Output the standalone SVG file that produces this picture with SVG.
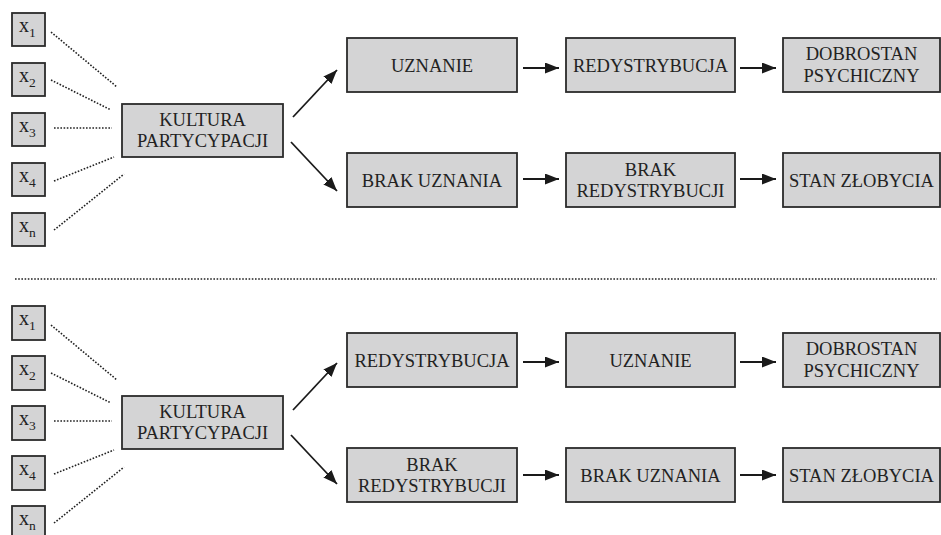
<svg xmlns="http://www.w3.org/2000/svg" width="941" height="535" viewBox="0 0 941 535" font-family="'Liberation Serif', 'DejaVu Serif', 'Times New Roman', serif">
<style>
.box{fill:#d4d4d5;stroke:#2b2b2b;stroke-width:1.8}
.t{font-family:'Liberation Serif','DejaVu Serif','Times New Roman',serif;font-size:18.5px;fill:#222;text-anchor:middle}
.xv{font-family:'Liberation Serif','DejaVu Serif','Times New Roman',serif;font-size:20px;fill:#222}
.sub{font-size:13.5px}
.dot{stroke:#222;stroke-width:1.6;stroke-dasharray:1.6 1.6;fill:none}
.arr{stroke:#1a1a1a;stroke-width:1.8;fill:none;marker-end:url(#ah)}
</style>
<defs>
<marker id="ah" viewBox="0 0 14 11" refX="14" refY="5.5" markerWidth="14" markerHeight="11" markerUnits="userSpaceOnUse" orient="auto">
<path d="M0,0 L14,5.5 L0,11 Z" fill="#1a1a1a"/>
</marker>
</defs>
<rect width="941" height="535" fill="#fff"/>

<!-- TOP SECTION -->
<g id="top-x1"><rect class="box" x="12" y="13" width="33" height="33"/><text class="xv" x="19" y="32">x<tspan class="sub" dy="5">1</tspan></text></g>
<g id="top-x2"><rect class="box" x="12" y="63" width="33" height="33"/><text class="xv" x="19" y="82">x<tspan class="sub" dy="5">2</tspan></text></g>
<g id="top-x3"><rect class="box" x="12" y="113" width="33" height="33"/><text class="xv" x="19" y="132">x<tspan class="sub" dy="5">3</tspan></text></g>
<g id="top-x4"><rect class="box" x="12" y="163" width="33" height="33"/><text class="xv" x="19" y="182">x<tspan class="sub" dy="5">4</tspan></text></g>
<g id="top-xn"><rect class="box" x="12" y="213" width="33" height="33"/><text class="xv" x="19" y="232">x<tspan class="sub" dy="5">n</tspan></text></g>
<g id="top-kultura"><rect class="box" x="122" y="104" width="161" height="53"/><text class="t" x="202.5" y="126">KULTURA</text><text class="t" x="202.5" y="147">PARTYCYPACJI</text></g>
<g id="top-uznanie"><rect class="box" x="347" y="38" width="170" height="54"/><text class="t" x="432" y="72">UZNANIE</text></g>
<g id="top-redystrybucja"><rect class="box" x="566" y="38" width="169" height="54"/><text class="t" x="650.5" y="72">REDYSTRYBUCJA</text></g>
<g id="top-dobrostan"><rect class="box" x="783" y="38" width="157" height="54"/><text class="t" x="861.5" y="60">DOBROSTAN</text><text class="t" x="861.5" y="82">PSYCHICZNY</text></g>
<g id="top-brak-uznania"><rect class="box" x="347" y="153" width="170" height="54"/><text class="t" x="432" y="187">BRAK UZNANIA</text></g>
<g id="top-brak-redystrybucji"><rect class="box" x="566" y="153" width="169" height="54"/><text class="t" x="650.5" y="176">BRAK</text><text class="t" x="650.5" y="197">REDYSTRYBUCJI</text></g>
<g id="top-stan"><rect class="box" x="783" y="153" width="157" height="54"/><text class="t" x="861.5" y="187">STAN ZŁOBYCIA</text></g>

<!-- BOTTOM SECTION -->
<g id="bot-x1"><rect class="box" x="12" y="306" width="33" height="34"/><text class="xv" x="19" y="325">x<tspan class="sub" dy="5">1</tspan></text></g>
<g id="bot-x2"><rect class="box" x="12" y="356" width="33" height="34"/><text class="xv" x="19" y="375">x<tspan class="sub" dy="5">2</tspan></text></g>
<g id="bot-x3"><rect class="box" x="12" y="406" width="33" height="34"/><text class="xv" x="19" y="425">x<tspan class="sub" dy="5">3</tspan></text></g>
<g id="bot-x4"><rect class="box" x="12" y="456" width="33" height="34"/><text class="xv" x="19" y="475">x<tspan class="sub" dy="5">4</tspan></text></g>
<g id="bot-xn"><rect class="box" x="12" y="506" width="33" height="34"/><text class="xv" x="19" y="525">x<tspan class="sub" dy="5">n</tspan></text></g>
<g id="bot-kultura"><rect class="box" x="122" y="396" width="161" height="53"/><text class="t" x="202.5" y="418">KULTURA</text><text class="t" x="202.5" y="439">PARTYCYPACJI</text></g>
<g id="bot-redystrybucja"><rect class="box" x="347" y="333" width="170" height="54"/><text class="t" x="432" y="367">REDYSTRYBUCJA</text></g>
<g id="bot-uznanie"><rect class="box" x="566" y="333" width="169" height="54"/><text class="t" x="650.5" y="367">UZNANIE</text></g>
<g id="bot-dobrostan"><rect class="box" x="783" y="333" width="157" height="54"/><text class="t" x="861.5" y="355">DOBROSTAN</text><text class="t" x="861.5" y="377">PSYCHICZNY</text></g>
<g id="bot-brak-redystrybucji"><rect class="box" x="347" y="448" width="170" height="54"/><text class="t" x="432" y="471">BRAK</text><text class="t" x="432" y="492">REDYSTRYBUCJI</text></g>
<g id="bot-brak-uznania"><rect class="box" x="566" y="448" width="169" height="54"/><text class="t" x="650.5" y="482">BRAK UZNANIA</text></g>
<g id="bot-stan"><rect class="box" x="783" y="448" width="157" height="54"/><text class="t" x="861.5" y="482">STAN ZŁOBYCIA</text></g>

<g id="connectors">
<line class="dot" x1="51" y1="32" x2="117" y2="87"/>
<line class="dot" x1="51" y1="80" x2="111" y2="110"/>
<line class="dot" x1="54" y1="128" x2="112" y2="128"/>
<line class="dot" x1="54" y1="181" x2="114" y2="157"/>
<line class="dot" x1="54" y1="230" x2="124" y2="174"/>
<line class="arr" x1="293" y1="117" x2="337" y2="70"/>
<line class="arr" x1="291" y1="142" x2="337" y2="191"/>
<line class="arr" x1="523" y1="68" x2="559" y2="68"/>
<line class="arr" x1="740" y1="68" x2="776" y2="68"/>
<line class="arr" x1="523" y1="179" x2="559" y2="179"/>
<line class="arr" x1="740" y1="179" x2="776" y2="179"/>

<line class="dot" x1="15" y1="279" x2="937" y2="279"/>

<line class="dot" x1="51" y1="325" x2="117" y2="380"/>
<line class="dot" x1="51" y1="373" x2="111" y2="403"/>
<line class="dot" x1="54" y1="421" x2="112" y2="421"/>
<line class="dot" x1="54" y1="474" x2="114" y2="450"/>
<line class="dot" x1="54" y1="523" x2="124" y2="467"/>
<line class="arr" x1="293" y1="410" x2="337" y2="363"/>
<line class="arr" x1="291" y1="435" x2="337" y2="484"/>
<line class="arr" x1="523" y1="362" x2="559" y2="362"/>
<line class="arr" x1="740" y1="362" x2="776" y2="362"/>
<line class="arr" x1="523" y1="475" x2="559" y2="475"/>
<line class="arr" x1="740" y1="475" x2="776" y2="475"/>
</g>
</svg>
